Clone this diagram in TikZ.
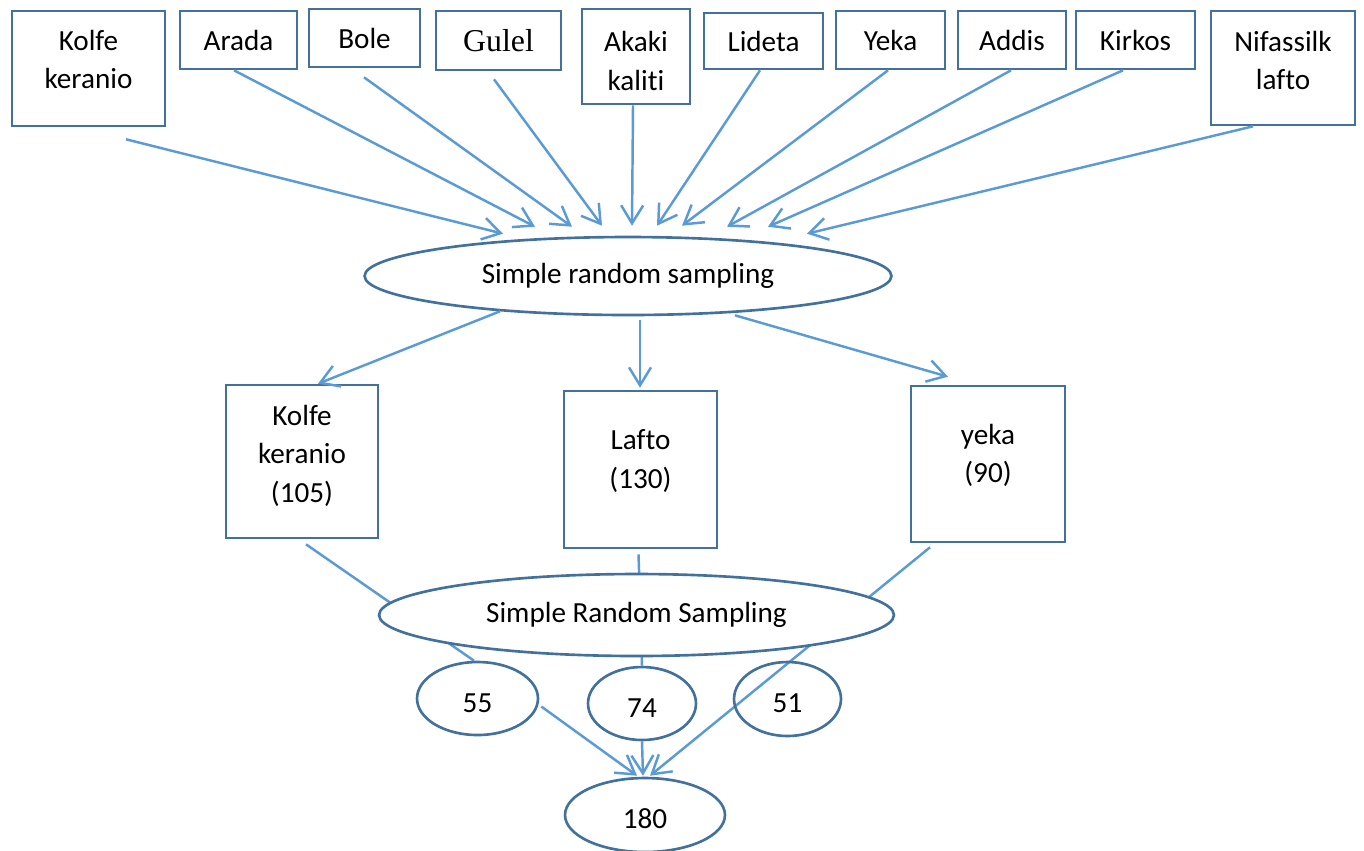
\documentclass[tikz,border=0pt]{standalone}
\usepackage{fontspec}
\setmainfont{Carlito}[Ligatures=NoCommon]
\newfontfamily\timesfont{Liberation Serif}
\usepackage{tikz}
\usetikzlibrary{shapes.geometric, arrows.meta, calc, backgrounds}
\definecolor{lineblue}{RGB}{91,155,213}
\definecolor{boxblue}{RGB}{65,113,156}

\begin{document}
\begin{tikzpicture}[x=0.02cm, y=-0.02cm,
    box/.style={draw=boxblue, line width=1.5pt, align=center, inner sep=0pt, fill=white, font=\fontsize{16.6}{21.8}\selectfont},
    oval/.style={ellipse, draw=boxblue, line width=1.5pt, inner sep=0pt, font=\fontsize{16.6}{21.8}\selectfont},
    srs/.style={oval, fill=white},
    num/.style={oval, text height=15.6pt, text depth=0pt},
    arrow/.style={-{Straight Barb[length=0.36cm, width=0.44cm]}, draw=lineblue, line width=1.4pt},
    link/.style={draw=lineblue, line width=1.4pt}
]

\begin{scope}[on background layer]
\fill[white] (0,0) rectangle (1364,850);
\end{scope}
\useasboundingbox (0,0) rectangle (1364,850);

% Sub-cities
\node[box, minimum width=3.06cm, minimum height=2.3cm, text depth=10.2pt] (kolfeT) at (88.5,68.5) {Kolfe\\keranio};
\node[box, minimum width=2.34cm, minimum height=1.16cm] (arada) at (238.5,40) {Arada};
\node[box, minimum width=2.22cm, minimum height=1.16cm] (bole) at (364.5,38) {Bole};
\node[box, minimum width=2.5cm, minimum height=1.18cm, font=\timesfont\fontsize{18.1}{22}\selectfont] (gulel) at (498.5,40.5) {Gulel};
\node[box, minimum width=2.16cm, minimum height=1.9cm, text height=38.4pt] (akaki) at (636,56.5) {Akaki\\kaliti};
\node[box, minimum width=2.38cm, minimum height=1.12cm] (lideta) at (763.5,41) {Lideta};
\node[box, minimum width=2.18cm, minimum height=1.16cm] (yekaT) at (890.5,40) {Yeka};
\node[box, minimum width=2.16cm, minimum height=1.16cm] (addis) at (1012,40) {Addis};
\node[box, minimum width=2.38cm, minimum height=1.16cm] (kirkos) at (1135.5,40) {Kirkos};
\node[box, minimum width=2.88cm, minimum height=2.28cm, text depth=8.5pt] (nifas) at (1283,68) {Nifassilk\\lafto};

% First stage
\node[srs, minimum width=10.54cm, minimum height=1.56cm] (srsA) at (628,276) {Simple random sampling};

% Selected sub-cities
\node[box, minimum width=3.04cm, minimum height=3.06cm, text depth=9pt] (kolfeM) at (302,461.5) {Kolfe\\keranio\\(105)};
\node[box, minimum width=3.06cm, minimum height=3.14cm, text depth=12pt] (lafto) at (640.5,469.5) {Lafto\\(130)};
\node[box, minimum width=3.08cm, minimum height=3.12cm, text depth=12.5pt] (yekaM) at (988,464) {yeka\\(90)};

% Second stage
\node[srs, minimum width=10.3cm, minimum height=1.64cm] (srsB) at (636.5,615) {Simple Random Sampling};

% Sample sizes
\node[num, minimum width=2.42cm, minimum height=1.46cm] (n55) at (477.5,698.5) {55};
\node[num, minimum width=2.16cm, minimum height=1.46cm] (n74) at (642,703.5) {74};
\node[num, minimum width=2.14cm, minimum height=1.48cm] (n51) at (787.5,699) {51};
\node[num, minimum width=3.2cm, minimum height=1.48cm] (n180) at (645,815) {180};

% Arrows into first stage
\draw[arrow] ($(kolfeT.south)+(37.5,12)$) -- ($(srsA.north)+(-125,-2)$);
\draw[arrow] ($(arada.south)+(-4.5,0)$) -- ($(srsA.north)+(-93,-9)$);
\draw[arrow] ($(bole.south)+(-0.5,9)$) -- ($(srsA.north)+(-56,-9)$);
\draw[arrow] ($(gulel.south)+(-4.5,8)$) -- ($(srsA.north)+(-26,-10)$);
\draw[arrow] ($(akaki.south)+(-3,0)$) -- ($(srsA.north)+(4,-10)$);
\draw[arrow] ($(lideta.south)+(-3.5,0)$) -- ($(srsA.north)+(29,-10)$);
\draw[arrow] ($(yekaT.south)+(-2.5,0)$) -- ($(srsA.north)+(54,-10)$);
\draw[arrow] ($(addis.south)+(-1,0)$) -- ($(srsA.north)+(99,-9)$);
\draw[arrow] ($(kirkos.south)+(-12.5,0)$) -- ($(srsA.north)+(140,-9)$);
\draw[arrow] ($(nifas.south)+(-30,0)$) -- ($(srsA.north)+(179,-2)$);

% Arrows out of first stage
\draw[arrow] ($(srsA.south)+(-128,-5)$) -- ($(kolfeM.north)+(16,0)$);
\draw[arrow] ($(srsA.south)+(12,4)$) -- ($(lafto.north)+(-0.5,-2)$);
\draw[arrow] ($(srsA.south)+(107,-1)$) -- ($(yekaM.north)+(-40,-8)$);

% Lines behind second stage
\begin{scope}[on background layer]
\draw[link] ($(kolfeM.south)+(4,5)$) -- ($(n55.north)+(-3.5,0)$);
\draw[link] ($(lafto.south)+(-2,5)$) -- (n74.north);
\draw[arrow] ($(yekaM.south)+(-58,4)$) -- ($(n180.north)+(5,-1)$);
\end{scope}

% Arrows into total
\draw[arrow] ($(n55.east)+(2,8)$) -- ($(n180.north)+(-8,-1)$);
\draw[arrow] (n74.south) -- ($(n180.north)+(-2,-1)$);

\end{tikzpicture}
\end{document}
